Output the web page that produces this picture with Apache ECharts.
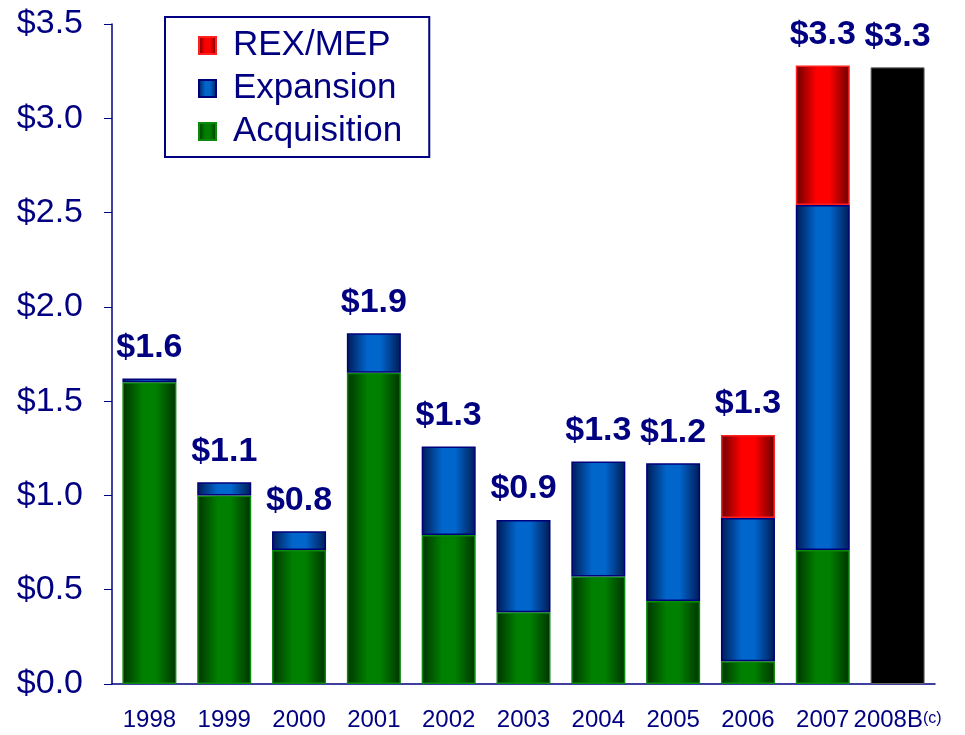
<!DOCTYPE html>
<html>
<head>
<meta charset="utf-8">
<script src="https://cdn.jsdelivr.net/npm/echarts@6/dist/echarts.min.js"></script>
<style>
  html, body { margin: 0; padding: 0; background: #fff; }
  #main { width: 965px; height: 735px; }
</style>
</head>
<body>
<div id="main"></div>
<script>
var years = ['1998', '1999', '2000', '2001', '2002', '2003', '2004', '2005', '2006', '2007', '2008B'];
var acquisition = [1.60, 1.00, 0.71, 1.65, 0.79, 0.38, 0.57, 0.44, 0.12, 0.71, 0];
var expansion   = [0.02, 0.07, 0.10, 0.21, 0.47, 0.49, 0.61, 0.73, 0.76, 1.83, 0];
var rexMep      = [0, 0, 0, 0, 0, 0, 0, 0, 0.44, 0.74, 0];
var budget      = [0, 0, 0, 0, 0, 0, 0, 0, 0, 0, 3.27];
var totalLabels = ['$1.6', '$1.1', '$0.8', '$1.9', '$1.3', '$0.9', '$1.3', '$1.2', '$1.3', '$3.3', '$3.3'];

var navy = '#000080';

// totals = top of each stack, used to place the labels
var totals = years.map(function (y, i) {
    return +(acquisition[i] + expansion[i] + rexMep[i] + budget[i]).toFixed(2);
});

// empty segments shouldn't draw a border sliver
function skipZero(arr) {
    return arr.map(function (v) { return v === 0 ? '-' : v; });
}

function tube(dark, bright) {
    return new echarts.graphic.LinearGradient(0, 0, 1, 0, [
        { offset: 0, color: dark },
        { offset: 0.38, color: bright },
        { offset: 0.62, color: bright },
        { offset: 1, color: dark }
    ]);
}

var chart = echarts.init(document.getElementById('main'));

var option = {
    animation: false,
    textStyle: { fontFamily: 'Liberation Sans, Arial, sans-serif' },
    legend: {
        orient: 'vertical',
        left: 165,
        top: 17,
        data: ['REX/MEP', 'Expansion', 'Acquisition'],
        icon: 'rect',
        itemWidth: 17,
        itemHeight: 17,
        itemGap: 8,
        padding: [11, 27, 8, 33],
        borderColor: navy,
        borderWidth: 2,
        textStyle: { color: navy, fontSize: 35, padding: [0, 0, 0, 12] }
    },
    grid: { left: 112, right: 30, top: 24, bottom: 51 },
    xAxis: {
        type: 'category',
        data: years,
        axisLine: { lineStyle: { color: navy, width: 1.5 } },
        axisTick: { show: false },
        axisLabel: {
            margin: 24,
            color: navy,
            fontSize: 24,
            interval: 0,
            formatter: function (v) {
                return v === '2008B' ? '{a|2008B}{b|(c)}' : '{a|' + v + '}';
            },
            rich: {
                a: { color: navy, fontSize: 24 },
                b: { color: navy, fontSize: 16, padding: [0, 0, 3, 0] }
            }
        }
    },
    yAxis: {
        type: 'value',
        min: 0,
        max: 3.5,
        interval: 0.5,
        splitLine: { show: false },
        axisLine: { show: true, lineStyle: { color: navy, width: 1.5 } },
        axisTick: { show: true, length: 8, lineStyle: { color: navy } },
        axisLabel: {
            margin: 29,
            color: navy,
            fontSize: 34,
            formatter: function (v) { return '$' + v.toFixed(1); }
        }
    },
    series: [
        {
            name: 'Acquisition',
            type: 'bar',
            stack: 'cap',
            barWidth: 54,
            data: skipZero(acquisition),
            itemStyle: { color: tube('#003300', '#008000'), borderColor: '#0a8a0a', borderWidth: 1.5 }
        },
        {
            name: 'Expansion',
            type: 'bar',
            stack: 'cap',
            data: skipZero(expansion),
            itemStyle: { color: tube('#001a55', '#0066cc'), borderColor: '#00007a', borderWidth: 1.5 }
        },
        {
            name: 'REX/MEP',
            type: 'bar',
            stack: 'cap',
            data: skipZero(rexMep),
            itemStyle: { color: tube('#6a0000', '#ff0000'), borderColor: '#ff2020', borderWidth: 1.5 }
        },
        {
            name: 'Budget',
            type: 'bar',
            stack: 'cap',
            data: skipZero(budget),
            itemStyle: { color: '#000000', borderColor: '#666666', borderWidth: 1 }
        },
        {
            name: 'Total',
            type: 'scatter',
            symbolSize: 0,
            data: totals,
            silent: true,
            itemStyle: { opacity: 1 },
            label: {
                show: true,
                position: 'top',
                distance: 14,
                color: navy,
                fontSize: 34,
                fontWeight: 'bold',
                formatter: function (p) { return totalLabels[p.dataIndex]; }
            }
        }
    ]
};

chart.setOption(option);
</script>
</body>
</html>
